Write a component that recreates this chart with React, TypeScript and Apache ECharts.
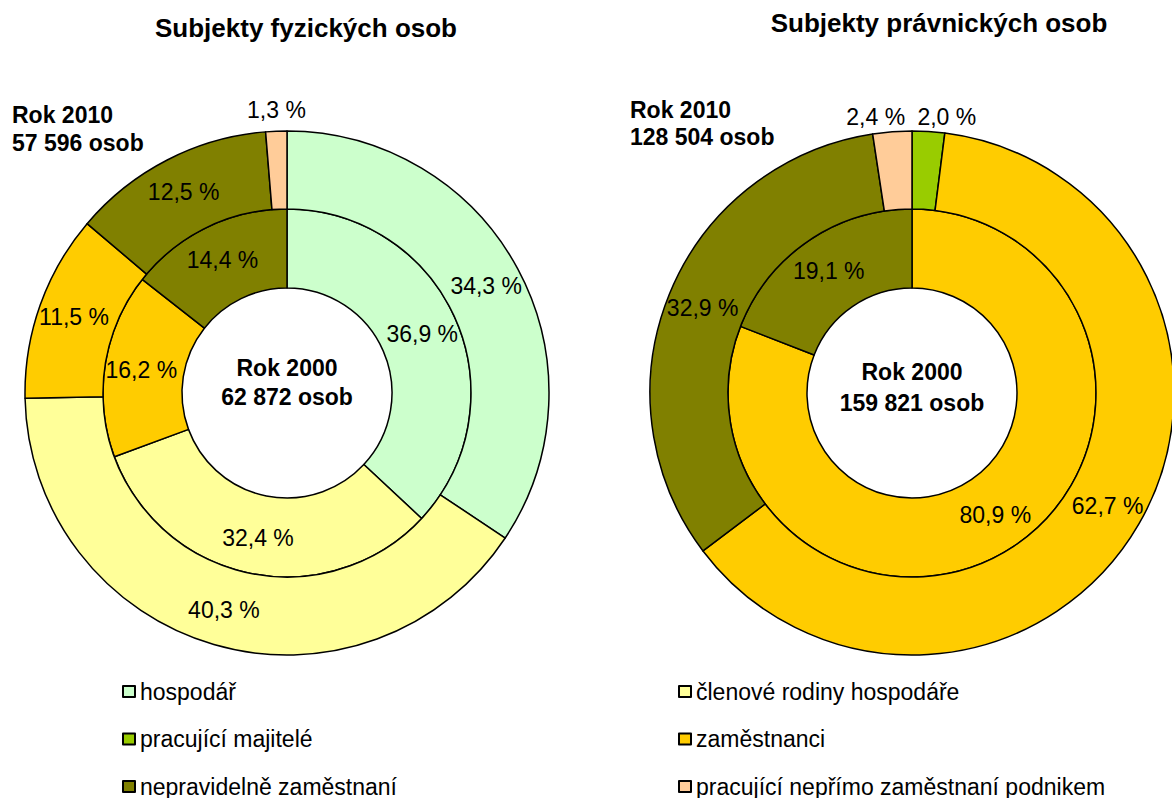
import React, { useEffect, useRef } from 'react';
import * as echarts from 'echarts';

const categories = [
  'hospodář',
  'pracující majitelé',
  'členové rodiny hospodáře',
  'zaměstnanci',
  'nepravidelně zaměstnaní',
  'pracující nepřímo zaměstnaní podnikem',
];
const colors = ['#CCFFCC', '#99CC00', '#FFFF99', '#FFCC00', '#808000', '#FFCC99'];

const fyz2000 = [36.9, 0, 32.4, 16.2, 14.4, 0];
const fyz2010 = [34.3, 0, 40.3, 11.5, 12.5, 1.3];
const prav2000 = [0, 0, 0, 80.9, 19.1, 0];
const prav2010 = [0, 2.0, 0, 62.7, 32.9, 2.4];

const titles = ['Subjekty fyzických osob', 'Subjekty právnických osob'];
const centerTexts = [
  ['Rok 2000', '62 872 osob'],
  ['Rok 2000', '159 821 osob'],
];
const cornerTexts = [
  ['Rok 2010', '57 596 osob'],
  ['Rok 2010', '128 504 osob'],
];

const FONT = '"Liberation Sans", Arial, Helvetica, sans-serif';
const fmt = (v: number) => v.toFixed(1).replace('.', ',') + ' %';

function pieData(values: number[]) {
  return categories
    .map((name, i) => {
      const small = values[i] > 0 && values[i] < 3;
      const d: any = { name, value: values[i], itemStyle: { color: colors[i] } };
      if (small) d.label = { position: 'outside' };
      return d;
    })
    .filter((d) => d.value > 0);
}

function makeSeries(values: number[], center: number[], radius: number[], lineLen: number, shifts: Record<string, any>) {
  const data = pieData(values);
  return {
    type: 'pie',
    center,
    radius,
    startAngle: 90,
    clockwise: true,
    silent: true,
    avoidLabelOverlap: false,
    emphasis: { disabled: true },
    data,
    itemStyle: { borderColor: '#000', borderWidth: 1.5 },
    label: {
      show: true,
      position: 'inside',
      formatter: (p: any) => fmt(p.value),
      fontSize: 23,
      fontFamily: FONT,
      color: '#000',
      distanceToLabelLine: 0,
    },
    labelLine: { show: false, length: lineLen, length2: 0 },
    labelLayout: (params: any) => {
      const item = data[params.dataIndex];
      if (item && shifts[item.name]) return shifts[item.name];
      return {};
    },
  };
}

export default function App() {
  const ref = useRef<HTMLDivElement>(null);
  useEffect(() => {
    if (!ref.current) return;
    const chart = echarts.init(ref.current, null, { renderer: 'svg' });
    const txt = (text: string, x: number, y: number, size: number, bold: boolean, align: string) => ({
      type: 'text',
      x,
      y,
      style: {
        text,
        fontSize: size,
        fontWeight: bold ? 'bold' : 'normal',
        fontFamily: FONT,
        fill: '#000',
        textAlign: align,
        textVerticalAlign: 'middle',
      },
    });
    const legendCommon = {
      orient: 'vertical',
      top: 680,
      height: 140,
      padding: 0,
      itemWidth: 12,
      itemHeight: 11,
      itemGap: 24.5,
      icon: 'rect',
      selectedMode: false,
      textStyle: { fontSize: 23, fontFamily: FONT, color: '#000', lineHeight: 22 },
    };
    chart.setOption({
      animation: false,
      backgroundColor: '#fff',
      legend: [
        { ...legendCommon, left: 122, data: [categories[0], categories[1], categories[4]] },
        { ...legendCommon, left: 678, data: [categories[2], categories[3], categories[5]] },
      ],
      series: [
        makeSeries(fyz2000, [287, 393], [105, 184], 21, {}),
        makeSeries(fyz2010, [287, 393], [184, 262], 21, {
          [categories[5]]: { align: 'center', dx: 1 },
        }),
        makeSeries(prav2000, [912, 393], [105, 184], 15, {}),
        makeSeries(prav2010, [912, 393], [184, 262], 15, {
          [categories[5]]: { dx: 14 },
          [categories[1]]: { dx: -12 },
        }),
      ],
      graphic: [
        txt(titles[0], 306, 28, 26, true, 'center'),
        txt(titles[1], 939, 23, 26, true, 'center'),
        txt(centerTexts[0][0], 287, 368, 23, true, 'center'),
        txt(centerTexts[0][1], 287, 397, 23, true, 'center'),
        txt(centerTexts[1][0], 912, 372, 23, true, 'center'),
        txt(centerTexts[1][1], 912, 403, 23, true, 'center'),
        txt(cornerTexts[0][0], 12, 115, 23, true, 'left'),
        txt(cornerTexts[0][1], 12, 143, 23, true, 'left'),
        txt(cornerTexts[1][0], 630, 110, 23, true, 'left'),
        txt(cornerTexts[1][1], 630, 137, 23, true, 'left'),
      ],
    });
    return () => chart.dispose();
  }, []);
  return (
    <div
      ref={ref}
      style={{ position: 'fixed', left: 0, top: 0, width: 1172, height: 798, background: '#fff' }}
    />
  );
}
